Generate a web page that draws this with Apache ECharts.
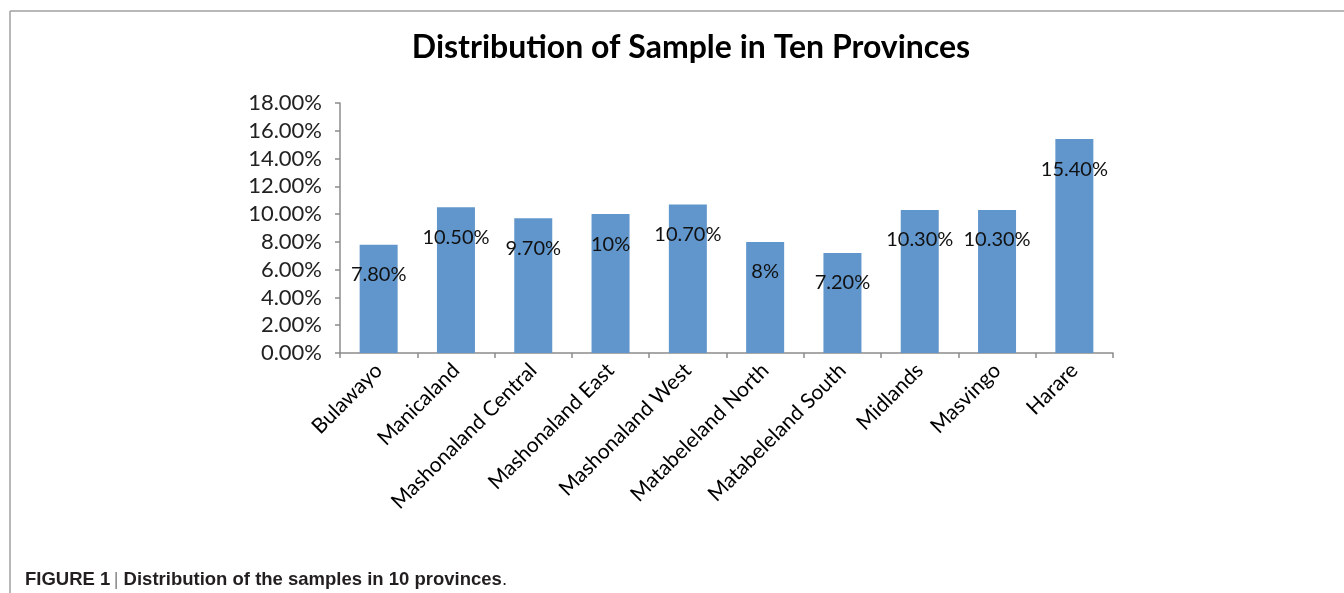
<!DOCTYPE html>
<html>
<head>
<meta charset="utf-8">
<script src="https://cdn.jsdelivr.net/npm/echarts@6/dist/echarts.min.js"></script>
<style>
html,body{margin:0;padding:0;background:#fff;}
#chart{width:1344px;height:593px;}
</style>
</head>
<body>
<div id="chart"></div>
<script>
const categories = ["Bulawayo","Manicaland","Mashonaland Central","Mashonaland East","Mashonaland West","Matabeleland North","Matabeleland South","Midlands","Masvingo","Harare"];
const values = [7.8, 10.5, 9.7, 10, 10.7, 8, 7.2, 10.3, 10.3, 15.4];
const valueLabels = ["7.80%","10.50%","9.70%","10%","10.70%","8%","7.20%","10.30%","10.30%","15.40%"];
const yTicks = [0,2,4,6,8,10,12,14,16,18];

const chart = echarts.init(document.getElementById('chart'));
chart.setOption({
  animation: false,
  title: {
    text: 'Distribution of Sample in Ten Provinces',
    left: 686, top: 27, textAlign: 'center',
    textStyle: {fontFamily: 'Lato', fontWeight: 'bold', fontSize: 32, color: '#000'}
  },
  grid: {left: 340, right: 231, top: 103, bottom: 240, containLabel: false},
  xAxis: {
    type: 'category',
    data: categories,
    axisLine: {lineStyle: {color: '#8c8c8c', width: 1.5}},
    axisTick: {show: true, alignWithLabel: false, length: 5, lineStyle: {color: '#8c8c8c', width: 1.5}},
    axisLabel: {rotate: 45, interval: 0, margin: 14, fontFamily: 'Lato', fontSize: 21, color: '#000'}
  },
  yAxis: {
    type: 'value',
    min: 0, max: 18, interval: 2,
    splitLine: {show: false},
    axisLine: {show: true, lineStyle: {color: '#8c8c8c', width: 1.5}},
    axisTick: {show: true, length: 5, lineStyle: {color: '#8c8c8c', width: 1.5}},
    axisLabel: {margin: 18, fontFamily: 'Lato', fontSize: 22, color: '#222',
      formatter: v => yTicks.includes(v) ? v.toFixed(2) + '%' : ''}
  },
  series: [{
    type: 'bar',
    data: values,
    barWidth: 38,
    itemStyle: {color: '#6096cc'},
    label: {
      show: true, position: 'insideTop', distance: 20,
      formatter: p => valueLabels[p.dataIndex],
      fontFamily: 'Lato', fontSize: 20, color: '#111'
    }
  }],
  graphic: [
    {type: 'line', shape: {x1: 10, y1: 11, x2: 1344, y2: 11}, style: {stroke: '#a0a0a0', lineWidth: 1.5}},
    {type: 'line', shape: {x1: 10, y1: 11, x2: 10, y2: 593}, style: {stroke: '#a0a0a0', lineWidth: 1.5}},
    {type: 'text', left: 25, top: 570, style: {
      text: '{b|FIGURE 1} {s|| }{b|Distribution of the samples in 10 provinces}{n|.}',
      rich: {
        b: {fontFamily: 'Liberation Sans', fontWeight: 'bold', fontSize: 18.5, fill: '#231f20'},
        s: {fontFamily: 'Liberation Sans', fontSize: 18.5, fill: '#888'},
        n: {fontFamily: 'Liberation Sans', fontSize: 18.5, fill: '#231f20'}
      }
    }}
  ]
});
</script>
</body>
</html>
